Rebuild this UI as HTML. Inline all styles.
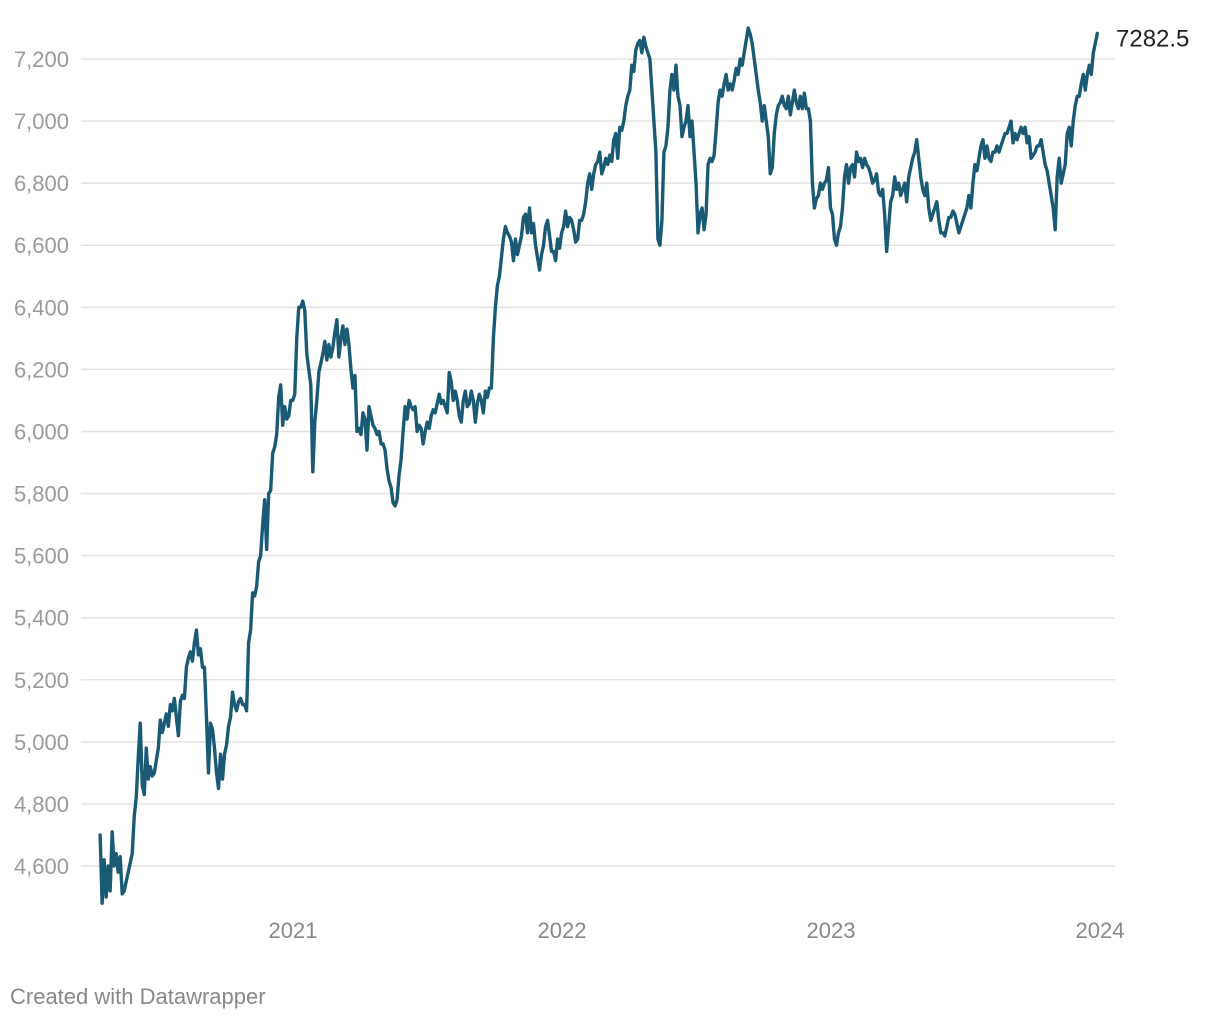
<!DOCTYPE html>
<html><head><meta charset="utf-8">
<style>
body{margin:0;background:#fff;font-family:"Liberation Sans",sans-serif;}
#wrap{position:relative;width:1220px;height:1020px;}
svg text{font-family:"Liberation Sans",sans-serif;}
</style></head>
<body>
<div id="wrap">
<svg id="chart" width="1220" height="1020"></svg>
</div>
<script>
const yTicks=[4600,4800,5000,5200,5400,5600,5800,6000,6200,6400,6600,6800,7000,7200];
const yTickLabels=["4,600","4,800","5,000","5,200","5,400","5,600","5,800","6,000","6,200","6,400","6,600","6,800","7,000","7,200"];
const xTicks=[2021,2022,2023,2024];
const xTickLabels=["2021","2022","2023","2024"];
const startYear=2020.283, endYear=2023.99;
const values=[4700,4480,4620,4500,4600,4520,4710,4600,4640,4580,4630,4510,4520,4550,4580,4610,4640,4760,4820,4950,5060,4860,4830,4980,4880,4920,4890,4900,4940,4980,5070,5030,5060,5090,5050,5120,5100,5140,5080,5020,5130,5150,5140,5240,5270,5290,5260,5320,5360,5280,5300,5240,5240,5080,4900,5060,5040,4980,4900,4850,4960,4880,4960,4990,5050,5080,5160,5120,5100,5130,5140,5120,5120,5100,5320,5360,5480,5470,5500,5580,5600,5700,5780,5620,5800,5810,5930,5950,5990,6110,6150,6020,6080,6040,6050,6100,6100,6120,6300,6400,6400,6420,6390,6250,6200,6150,5870,6030,6100,6190,6220,6250,6290,6230,6280,6240,6270,6320,6360,6240,6300,6340,6280,6330,6280,6200,6140,6180,6000,6010,5990,6060,6040,5940,6080,6050,6020,6010,5990,6000,5960,5960,5940,5880,5840,5820,5770,5760,5780,5860,5910,6000,6080,6040,6100,6080,6070,6080,6000,6020,6010,5960,6000,6030,6010,6050,6070,6060,6090,6120,6090,6100,6080,6060,6190,6160,6100,6130,6100,6050,6030,6100,6130,6080,6090,6130,6100,6030,6090,6120,6100,6060,6130,6110,6140,6140,6300,6400,6470,6500,6560,6620,6660,6640,6630,6610,6550,6620,6570,6600,6630,6690,6700,6640,6720,6640,6670,6600,6560,6520,6570,6600,6660,6680,6630,6580,6580,6550,6620,6590,6640,6660,6710,6660,6690,6680,6650,6610,6620,6680,6680,6700,6740,6800,6830,6780,6830,6860,6870,6900,6830,6850,6880,6860,6890,6870,6940,6960,6880,6980,6970,7000,7050,7080,7100,7180,7160,7230,7250,7260,7220,7270,7240,7220,7200,7100,7000,6900,6620,6600,6680,6900,6920,6980,7100,7150,7100,7180,7080,7050,6950,6980,7000,7050,6950,7000,6900,6800,6640,6700,6720,6650,6700,6860,6880,6870,6890,6970,7060,7100,7080,7120,7150,7100,7120,7100,7130,7170,7150,7200,7180,7220,7260,7300,7280,7250,7200,7150,7100,7060,7000,7050,7000,6950,6830,6850,6960,7020,7050,7060,7080,7050,7040,7080,7020,7060,7100,7060,7040,7080,7040,7090,7040,7040,7000,6800,6720,6750,6760,6800,6780,6800,6810,6850,6720,6700,6620,6600,6640,6660,6720,6820,6860,6800,6850,6860,6820,6900,6870,6880,6850,6880,6860,6850,6830,6800,6810,6830,6770,6760,6780,6700,6580,6660,6740,6760,6820,6780,6800,6760,6780,6800,6740,6820,6850,6880,6900,6940,6880,6820,6780,6760,6800,6720,6680,6700,6720,6740,6680,6640,6640,6630,6660,6690,6690,6710,6700,6670,6640,6660,6680,6700,6720,6760,6720,6800,6860,6840,6880,6920,6940,6880,6920,6880,6870,6900,6900,6920,6900,6920,6940,6960,6960,6980,7000,6930,6960,6940,6960,6980,6960,6980,6930,6950,6880,6890,6900,6920,6920,6940,6900,6860,6840,6800,6760,6720,6650,6820,6880,6800,6830,6860,6960,6980,6920,7000,7050,7080,7080,7120,7150,7100,7150,7180,7150,7220,7250,7282.5];
const lastLabel="7282.5";

const NS="http://www.w3.org/2000/svg";
const svg=document.getElementById('chart');
const x0=81,x1=1115;
function xScale(yr){return 293+(yr-2021)*269;}
function yScale(v){return 866-(v-4600)*(866-59)/2600;}
function mk(tag,attrs){const e=document.createElementNS(NS,tag);for(const k in attrs)e.setAttribute(k,attrs[k]);return e;}

yTicks.forEach((t,i)=>{
  const g=mk('line',{x1:x0,x2:x1,y1:yScale(t),y2:yScale(t),stroke:'#e3e3e3','stroke-width':1.5});
  
  
  svg.appendChild(g);
  const tx=mk('text',{x:69,y:yScale(t)+8,'text-anchor':'end','font-size':22,fill:'#9a9a9a'});
  
  
  tx.textContent=yTickLabels[i];
  svg.appendChild(tx);
});
xTicks.forEach((t,i)=>{
  const tx=mk('text',{x:xScale(t),y:938,'text-anchor':'middle','font-size':22,fill:'#888'});
  
  
  tx.textContent=xTickLabels[i];
  svg.appendChild(tx);
});
const n=values.length;
let d='';
values.forEach((v,i)=>{
  const yr=startYear+(endYear-startYear)*i/(n-1);
  d+=(i?'L':'M')+xScale(yr).toFixed(2)+','+yScale(v).toFixed(2);
});
const path=mk('path',{d:d,fill:'none',stroke:'#1a5a75','stroke-width':3.4,'stroke-linejoin':'round','stroke-linecap':'round'});


svg.appendChild(path);
const lbl=mk('text',{x:1116,y:yScale(values[n-1])+13,'font-size':24,fill:'#222'});


lbl.textContent=lastLabel;
svg.appendChild(lbl);
const ft=mk('text',{x:10,y:1004,'font-size':22,fill:'#888'});


ft.textContent='Created with Datawrapper';
svg.appendChild(ft);
</script>
</body></html>
